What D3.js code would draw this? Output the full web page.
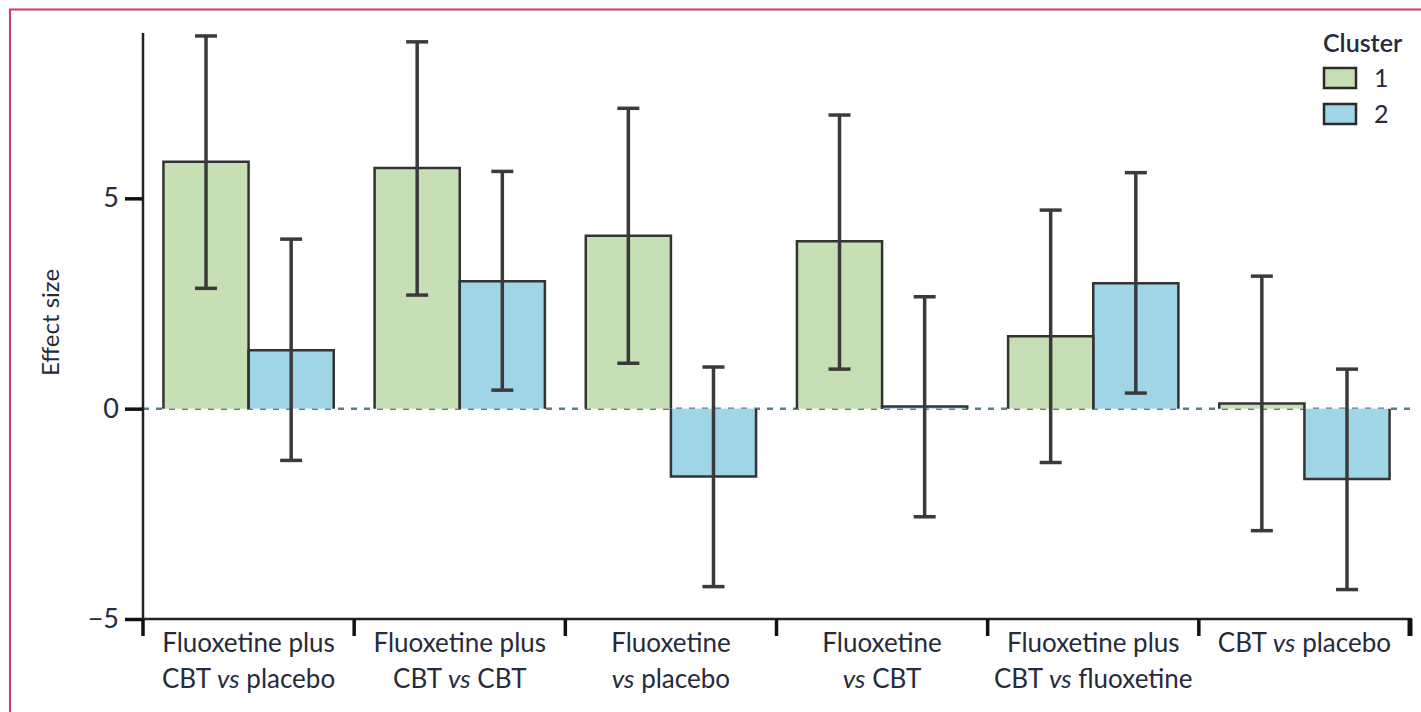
<!DOCTYPE html>
<html>
<head>
<meta charset="utf-8">
<script src="https://cdn.jsdelivr.net/npm/d3@7"></script>
<style>
    body { margin: 0; background: #fff; }
    svg text { font-family: Lato, "Open Sans", sans-serif; fill: #262a3a; }
</style>
</head>
<body>
<svg id="chart" width="1421" height="712"></svg>
<script>
// Data
const categories = [
    "Fluoxetine plus CBT vs placebo",
    "Fluoxetine plus CBT vs CBT",
    "Fluoxetine vs placebo",
    "Fluoxetine vs CBT",
    "Fluoxetine plus CBT vs fluoxetine",
    "CBT vs placebo"
];
// label lines; "vs" is set in italics
const categoryLines = [
    ["Fluoxetine plus", "CBT |vs| placebo"],
    ["Fluoxetine plus", "CBT |vs| CBT"],
    ["Fluoxetine", "|vs| placebo"],
    ["Fluoxetine", "|vs| CBT"],
    ["Fluoxetine plus", "CBT |vs| fluoxetine"],
    ["CBT |vs| placebo"]
];
const clusters = ["1", "2"];
const cluster1 = [5.87, 5.72, 4.11, 3.98, 1.72, 0.12];
const cluster1Low = [2.86, 2.70, 1.08, 0.94, -1.28, -2.90];
const cluster1High = [8.86, 8.72, 7.14, 6.98, 4.72, 3.15];
const cluster2 = [1.39, 3.03, -1.61, 0.05, 2.98, -1.67];
const cluster2Low = [-1.23, 0.44, -4.23, -2.57, 0.37, -4.30];
const cluster2High = [4.03, 5.64, 0.99, 2.66, 5.61, 0.94];
const yTicks = [-5, 0, 5];

const colors = { "1": "#c6dfb4", "2": "#9fd5e7" };

function drawChart() {
    const svg = d3.select('#chart');

    // Frame
    svg.append('path')
        .attr('d', 'M10,712 L10,9.5 L1421,9.5')
        .attr('fill', 'none')
        .attr('stroke', '#cc3b63')
        .attr('stroke-width', 2);

    const left = 143, right = 1410, top = 33, bottom = 619;

    const y = d3.scaleLinear().domain([-5, 8.93]).range([bottom, top]);
    const x = d3.scaleBand().domain(categories).range([left, right]).padding(0);
    const xs = d3.scaleBand().domain(clusters).range([0, x.bandwidth()])
        .paddingInner(0).paddingOuter(0.24);

    // Zero reference line
    svg.append('line')
        .attr('x1', left).attr('x2', right)
        .attr('y1', y(0)).attr('y2', y(0))
        .attr('stroke', '#5d7d8e')
        .attr('stroke-width', 2.5)
        .attr('stroke-dasharray', '6,7');

    const rows = [];
    categories.forEach((c, i) => {
        rows.push({ cat: c, cl: "1", v: cluster1[i], lo: cluster1Low[i], hi: cluster1High[i] });
        rows.push({ cat: c, cl: "2", v: cluster2[i], lo: cluster2Low[i], hi: cluster2High[i] });
    });

    // Bars (outlined on three sides, open at zero)
    const bars = svg.append('g');
    bars.selectAll('rect')
        .data(rows)
        .enter().append('rect')
        .attr('x', d => x(d.cat) + xs(d.cl))
        .attr('y', d => Math.min(y(d.v), y(0)))
        .attr('width', xs.bandwidth())
        .attr('height', d => Math.abs(y(d.v) - y(0)))
        .attr('fill', d => colors[d.cl]);
    bars.selectAll('path')
        .data(rows)
        .enter().append('path')
        .attr('d', d => {
            const x0 = x(d.cat) + xs(d.cl), x1 = x0 + xs.bandwidth();
            return `M${x0},${y(0)} L${x0},${y(d.v)} L${x1},${y(d.v)} L${x1},${y(0)}`;
        })
        .attr('fill', 'none')
        .attr('stroke', '#333')
        .attr('stroke-width', 2.5);

    // Error bars
    const err = svg.append('g')
        .attr('stroke', '#3a3a3a')
        .attr('stroke-width', 3.5);
    const cx = d => x(d.cat) + xs(d.cl) + xs.bandwidth() / 2;
    err.selectAll('.stem').data(rows).enter().append('line')
        .attr('x1', cx).attr('x2', cx)
        .attr('y1', d => y(d.lo)).attr('y2', d => y(d.hi));
    err.selectAll('.capLo').data(rows).enter().append('line')
        .attr('x1', d => cx(d) - 11).attr('x2', d => cx(d) + 11)
        .attr('y1', d => y(d.lo)).attr('y2', d => y(d.lo));
    err.selectAll('.capHi').data(rows).enter().append('line')
        .attr('x1', d => cx(d) - 11).attr('x2', d => cx(d) + 11)
        .attr('y1', d => y(d.hi)).attr('y2', d => y(d.hi));

    // Y axis
    const yAxis = svg.append('g')
        .attr('transform', `translate(${left},0)`)
        .call(d3.axisLeft(y).tickValues(yTicks).tickSize(18).tickPadding(6).tickSizeOuter(0));
    yAxis.select('.domain').attr('stroke', '#222').attr('stroke-width', 2.5)
        .attr('d', `M0,${top}V${bottom}`);
    yAxis.selectAll('.tick line').attr('stroke', '#111').attr('stroke-width', 3.5);
    yAxis.selectAll('.tick text')
        .attr('font-size', 27)
        .attr('fill', '#262a3a')
        .attr('font-family', 'Lato, sans-serif');

    // X axis with ticks at category boundaries
    const xAxis = svg.append('g');
    xAxis.append('line')
        .attr('x1', left - 1).attr('x2', right + 2)
        .attr('y1', bottom).attr('y2', bottom)
        .attr('stroke', '#222').attr('stroke-width', 2.5);
    const bounds = categories.map(c => x(c)).concat([x(categories[categories.length - 1]) + x.bandwidth()]);
    xAxis.selectAll('.bt').data(bounds).enter().append('line')
        .attr('x1', d => d).attr('x2', d => d)
        .attr('y1', bottom).attr('y2', bottom + 17)
        .attr('stroke', '#111')
        .attr('stroke-width', (d, i) => i === bounds.length - 1 ? 5 : 3.5);

    categories.forEach((c, i) => {
        const cxl = x(c) + x.bandwidth() / 2;
        const t = xAxis.append('text')
            .attr('x', cxl)
            .attr('y', bottom + 33)
            .attr('text-anchor', 'middle')
            .attr('font-size', 26);
        categoryLines[i].forEach((line, j) => {
            let first = true;
            line.split('|').forEach((p, k) => {
                if (!p) return;
                const ts = t.append('tspan').text(p);
                if (first) {
                    ts.attr('x', cxl).attr('dy', j === 0 ? 0 : 36);
                    first = false;
                }
                if (k % 2 === 1) ts.attr('font-style', 'italic');
            });
        });
    });

    // Y axis label
    svg.append('text')
        .attr('transform', `translate(59,${(y(0) + y(5)) / 2 + 19}) rotate(-90)`)
        .attr('text-anchor', 'middle')
        .attr('font-size', 24)
        .text('Effect size');

    // Legend
    const legend = svg.append('g');
    legend.append('text')
        .attr('x', 1323).attr('y', 52)
        .attr('font-size', 25)
        .attr('font-weight', 600)
        .text('Cluster');
    clusters.forEach((cl, i) => {
        legend.append('rect')
            .attr('x', 1324).attr('y', 68 + i * 36)
            .attr('width', 32).attr('height', 20)
            .attr('fill', colors[cl])
            .attr('stroke', '#2a2a2a').attr('stroke-width', 2.5);
        legend.append('text')
            .attr('x', 1374).attr('y', 87 + i * 36)
            .attr('font-size', 25)
            .text(cl);
    });
}

drawChart();
</script>
</body>
</html>
